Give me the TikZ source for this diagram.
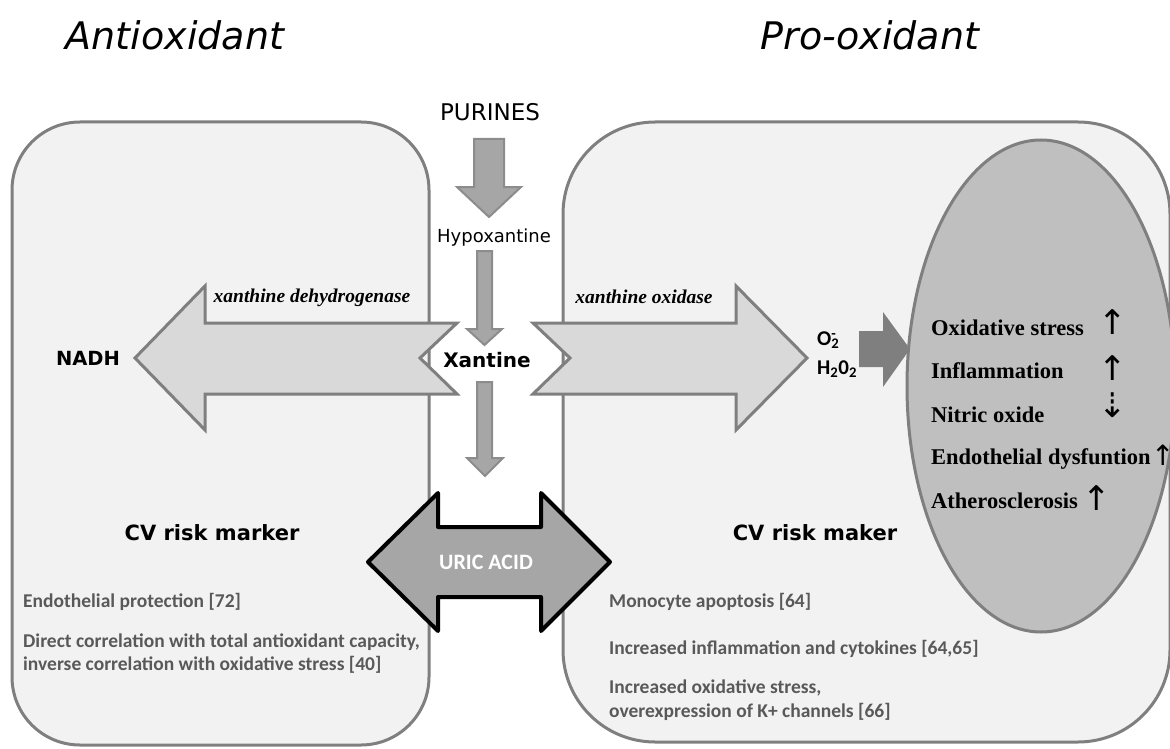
\documentclass[tikz,border=0pt]{standalone}
\usepackage{fontspec}
\setmainfont{Liberation Serif}
\newfontfamily\comicfont{DejaVu Sans}
\newfontfamily\calibrifont{Carlito}
\usepackage{tikz}
\usetikzlibrary{shapes.geometric, arrows.meta, positioning, calc}
\definecolor{panelfill}{HTML}{F2F2F2}
\definecolor{panelline}{HTML}{7F7F7F}
\definecolor{lightarrow}{HTML}{D9D9D9}
\definecolor{midarrow}{HTML}{A6A6A6}
\definecolor{ovalfill}{HTML}{BFBFBF}
\definecolor{reftext}{HTML}{595959}
\tikzstyle{panel} = [draw=panelline, line width=3pt, fill=panelfill]
\tikzstyle{bigarrow} = [draw=panelline, line width=3pt, fill=lightarrow, line join=miter]
\tikzstyle{flowarrow} = [draw=panelline!90, line width=2pt, fill=midarrow]
\tikzstyle{headline} = [font=\comicfont\itshape\fontsize{38}{44}\selectfont, inner sep=0pt, anchor=base]
\tikzstyle{metab} = [font=\comicfont\fontsize{18}{21}\selectfont, inner sep=0pt, anchor=base]
\tikzstyle{enzyme} = [font=\bfseries\itshape\fontsize{19.5}{23}\selectfont, inner sep=0pt, anchor=base]
\tikzstyle{effect} = [font=\bfseries\fontsize{22.5}{26}\selectfont, inner sep=0pt, anchor=base west]
\tikzstyle{updown} = [font=\comicfont\fontsize{34}{38}\selectfont, inner sep=0pt]
\tikzstyle{risk} = [font=\comicfont\bfseries\fontsize{21}{25}\selectfont, inner sep=0pt, anchor=base]
\tikzstyle{ros} = [font=\calibrifont\bfseries\fontsize{21}{29}\selectfont, inner sep=0pt, anchor=west, align=left]
\tikzstyle{reference} = [font=\calibrifont\bfseries\fontsize{19.5}{23}\selectfont, text=reftext, inner sep=0pt, anchor=base west]

\begin{document}
\begin{tikzpicture}[x=1pt, y=-1pt]
            \useasboundingbox (0,0) rectangle (1170,749);
            \draw[panel, rounded corners=68pt] (12,122) rectangle (429,745);
            \draw[panel, rounded corners=92pt] (563,122) rectangle (1170,742);
            \node[ellipse, draw=panelline, line width=3pt, fill=ovalfill, minimum width=268pt, minimum height=492pt, inner sep=0pt] (oval) at (1041,386) {};

            \draw[bigarrow] (457,323) -- (205,323) -- (205,286) -- (135,358) -- (205,430) -- (205,394) -- (457,394) -- (420,358) -- cycle;
            \draw[bigarrow] (533,323) -- (736,323) -- (736,286) -- (807,358) -- (736,430) -- (736,394) -- (533,394) -- (570,358) -- cycle;

            \draw[flowarrow] (474,139) -- (504,139) -- (504,187) -- (521,187) -- (489,217) -- (457,187) -- (474,187) -- cycle;
            \draw[flowarrow] (477,251) -- (492,251) -- (492,329) -- (502,329) -- (484.5,345) -- (467,329) -- (477,329) -- cycle;
            \draw[flowarrow] (477,382) -- (492,382) -- (492,458) -- (503,458) -- (485,476) -- (467,458) -- (477,458) -- cycle;

            \fill[panelline] (859,331) -- (883,331) -- (883,312) -- (910,349) -- (883,387) -- (883,367) -- (859,367) -- cycle;

            \draw[black, line width=4pt, fill=midarrow, line join=round] (368,562) -- (438,493) -- (438,527) -- (541,527) -- (541,493) -- (610,562) -- (541,631) -- (541,597) -- (438,597) -- (438,631) -- cycle;
            \node[font=\calibrifont\bfseries\fontsize{22}{26}\selectfont, text=white] (uric) at (486,562) {URIC ACID};

            \node[headline] (anti) at (175,50) {Antioxidant};
            \node[headline] (pro) at (870,50) {Pro-oxidant};

            \node[metab, font=\comicfont\fontsize{23}{27}\selectfont] (purines) at (490,121) {PURINES};
            \node[metab] (hypox) at (494,242) {Hypoxantine};
            \node[metab, font=\comicfont\bfseries\fontsize{20}{24}\selectfont] (xantine) at (487,367) {Xantine};
            \node[metab, font=\comicfont\bfseries\fontsize{19.5}{23}\selectfont] (nadh) at (88,365) {NADH};

            \node[enzyme] (xdh) at (312,302) {xanthine dehydrogenase};
            \node[enzyme] (xo) at (644,303) {xanthine oxidase};

            \node[ros] (ros) at (817,355) {O\rlap{\textsuperscript{-}}\textsubscript{2}\\H\textsubscript{2}0\textsubscript{2}};

            \node[effect] (eff-1) at (931,335) {Oxidative stress};
            \node[effect] (eff-2) at (931,378) {Inflammation};
            \node[effect] (eff-3) at (931,422) {Nitric oxide};
            \node[effect] (eff-4) at (931,464) {Endothelial dysfuntion};
            \node[effect] (eff-5) at (931,508) {Atherosclerosis};

            \node[updown] (arr-1) at (1113,322) {↑};
            \node[updown] (arr-2) at (1113,368) {↑};
            \node[updown] (arr-3) at (1113,405) {⇣};
            \node[updown, font=\comicfont\fontsize{28}{32}\selectfont, anchor=west, yshift=3pt] (arr-4) at (eff-4.east) {↑};
            \node[updown] (arr-5) at (1097,498) {↑};

            \node[risk] (marker) at (212,540) {CV risk marker};
            \node[risk] (maker) at (815,540) {CV risk maker};

            \node[reference] (ref-1) at (23,607) {Endothelial protection [72]};
            \node[reference] (ref-2) at (23,647) {Direct correlation with total antioxidant capacity,};
            \node[reference] (ref-3) at (23,670) {inverse correlation with oxidative stress [40]};
            \node[reference] (ref-4) at (609,607) {Monocyte apoptosis [64]};
            \node[reference] (ref-5) at (609,654) {Increased inflammation and cytokines [64,65]};
            \node[reference] (ref-6) at (609,693) {Increased oxidative stress,};
            \node[reference] (ref-7) at (609,717) {overexpression of K+ channels [66]};
        \end{tikzpicture}
\end{document}
